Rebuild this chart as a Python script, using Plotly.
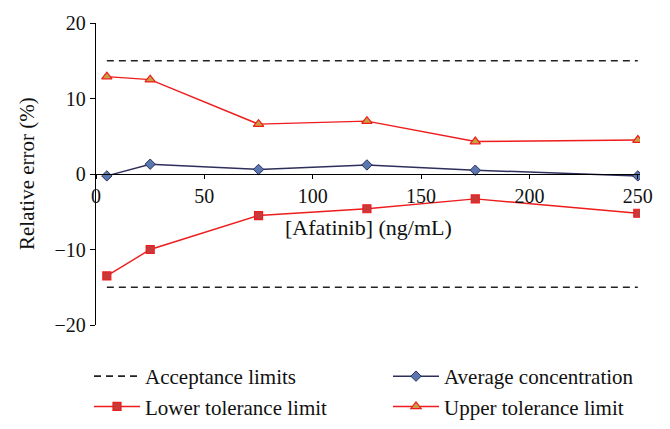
import plotly.graph_objects as go

conc = [5, 25, 75, 125, 175, 250]
upper = [12.9, 12.5, 6.6, 7.0, 4.3, 4.5]
average = [-0.25, 1.3, 0.6, 1.2, 0.5, -0.25]
lower = [-13.5, -10.0, -5.5, -4.6, -3.3, -5.2]
accept_x = [5, 250]
accept_hi = [15, 15]
accept_lo = [-15, -15]

FONT = "Liberation Serif"
DASH = dict(color="#222222", width=1.6, dash="7px,5px")

# page body has an 8px default margin; compensate so the plot lands where the reference has it
OFF = 8
W, H = 670 - OFF, 429 - OFF
ML, MR, MT, MB = 96 - OFF, 30, 23 - OFF, 104
PW = W - ML - MR
PH = H - MT - MB

fig = go.Figure()
fig.add_trace(go.Scatter(x=accept_x, y=accept_hi, mode="lines", name="Acceptance limits",
                         line=DASH, legend="legend"))
fig.add_trace(go.Scatter(x=accept_x, y=accept_lo, mode="lines", showlegend=False,
                         line=DASH, legend="legend"))
fig.add_trace(go.Scatter(x=conc, y=lower, mode="lines+markers", name="Lower tolerance limit",
                         line=dict(color="#ee1c1c", width=1.4),
                         marker=dict(symbol="square", size=8, color="#c83a3a",
                                     line=dict(color="#ee1c1c", width=1.2)), legend="legend"))
fig.add_trace(go.Scatter(x=conc, y=average, mode="lines+markers", name="Average concentration",
                         line=dict(color="#2e2e5c", width=1.5),
                         marker=dict(symbol="diamond", size=8, color="#5a78b0",
                                     line=dict(color="#2e2e5c", width=1)), legend="legend2"))
fig.add_trace(go.Scatter(x=conc, y=upper, mode="lines+markers", name="Upper tolerance limit",
                         line=dict(color="#ee1c1c", width=1.4),
                         marker=dict(symbol="triangle-up", size=9, color="#c8a040",
                                     line=dict(color="#ee1c1c", width=1.2)), legend="legend2"))

leg_common = dict(xref="container", yref="container", xanchor="left", yanchor="top",
                  orientation="v", tracegroupgap=0, itemwidth=46,
                  font=dict(family=FONT, size=21, color="#111111"),
                  bgcolor="rgba(0,0,0,0)")

fig.update_layout(
    width=W, height=H,
    margin=dict(l=ML, r=MR, t=MT, b=MB, autoexpand=False),
    paper_bgcolor="white", plot_bgcolor="white",
    font=dict(family=FONT, size=20, color="#111111"),
    showlegend=True,
    legend=dict(x=(89 - OFF) / W, y=1 - (356 - OFF) / H, **leg_common),
    legend2=dict(x=(388 - OFF) / W, y=1 - (356 - OFF) / H, **leg_common),
    xaxis=dict(range=[0, 251], anchor="free", position=0.5, automargin=False,
               showline=True, linecolor="black", linewidth=1.3,
               ticks="outside", ticklen=4, tickcolor="black",
               tickfont=dict(family=FONT, size=20),
               tickvals=[0, 50, 100, 150, 200, 250], showgrid=False, zeroline=False),
    yaxis=dict(range=[-20, 20], automargin=False,
               showline=True, linecolor="black", linewidth=1.3,
               ticks="outside", ticklen=5, tickcolor="black",
               tickfont=dict(family=FONT, size=20),
               tickvals=[-20, -10, 0, 10, 20], ticktext=["\u221220", "\u221210", "0", "10", "20"],
               showgrid=False, zeroline=False),
    annotations=[
        dict(text="[Afatinib] (ng/mL)", xref="paper", yref="paper",
             x=0.5, y=1 - (227 - 23) / PH, xanchor="center", yanchor="middle",
             showarrow=False, font=dict(family=FONT, size=22, color="#111111")),
        dict(text="Relative error (%)", xref="paper", yref="paper",
             x=(27 - 96) / PW, y=0.5, xanchor="center", yanchor="middle", textangle=-90,
             showarrow=False, font=dict(family=FONT, size=21, color="#111111")),
    ],
)

fig.write_html("out.html")
